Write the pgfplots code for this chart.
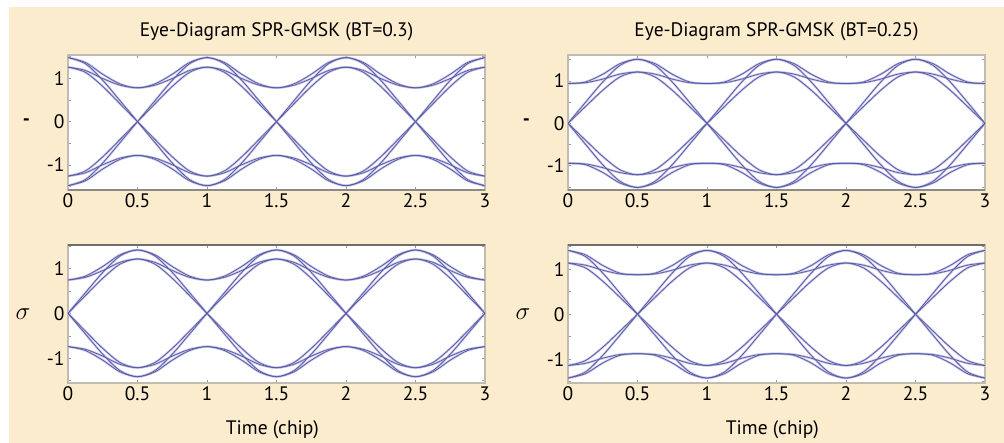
\documentclass[border=0pt]{standalone}
\usepackage{fontspec}
\setmainfont{PT Sans}
\usepackage{pgfplots}
\usepackage{pgfplotstable}
\pgfplotsset{compat=1.18}

\definecolor{bg}{RGB}{252,236,206}
\definecolor{tracecol}{RGB}{90,90,165}
\definecolor{halocol}{RGB}{198,198,233}
\definecolor{framecol}{RGB}{194,188,176}
\definecolor{edgecol}{RGB}{140,138,135}

% eye traces, sampled every 1/8 chip
% columns: upper/lower humps (ha, hb), crossing traces (xa, xb) and their mirrors
\pgfplotstableread{
t ha hb nha nhb xa xb nxa nxb
0 1.48 1.26 -1.48 -1.26 1.48 1.26 -1.48 -1.26
0.125 1.368 1.183 -1.368 -1.183 1.339 1.14 -1.339 -1.14
0.25 1.095 0.996 -1.095 -0.996 0.955 0.813 -0.955 -0.813
0.375 0.871 0.842 -0.871 -0.842 0.481 0.41 -0.481 -0.41
0.5 0.78 0.78 -0.78 -0.78 0 0 0 0
0.625 0.871 0.842 -0.871 -0.842 -0.481 -0.41 0.481 0.41
0.75 1.095 0.996 -1.095 -0.996 -0.955 -0.813 0.955 0.813
0.875 1.368 1.183 -1.368 -1.183 -1.339 -1.14 1.339 1.14
1 1.48 1.26 -1.48 -1.26 -1.48 -1.26 1.48 1.26
1.125 1.368 1.183 -1.368 -1.183 -1.339 -1.14 1.339 1.14
1.25 1.095 0.996 -1.095 -0.996 -0.955 -0.813 0.955 0.813
1.375 0.871 0.842 -0.871 -0.842 -0.481 -0.41 0.481 0.41
1.5 0.78 0.78 -0.78 -0.78 0 0 0 0
1.625 0.871 0.842 -0.871 -0.842 0.481 0.41 -0.481 -0.41
1.75 1.095 0.996 -1.095 -0.996 0.955 0.813 -0.955 -0.813
1.875 1.368 1.183 -1.368 -1.183 1.339 1.14 -1.339 -1.14
2 1.48 1.26 -1.48 -1.26 1.48 1.26 -1.48 -1.26
2.125 1.368 1.183 -1.368 -1.183 1.339 1.14 -1.339 -1.14
2.25 1.095 0.996 -1.095 -0.996 0.955 0.813 -0.955 -0.813
2.375 0.871 0.842 -0.871 -0.842 0.481 0.41 -0.481 -0.41
2.5 0.78 0.78 -0.78 -0.78 0 0 0 0
2.625 0.871 0.842 -0.871 -0.842 -0.481 -0.41 0.481 0.41
2.75 1.095 0.996 -1.095 -0.996 -0.955 -0.813 0.955 0.813
2.875 1.368 1.183 -1.368 -1.183 -1.339 -1.14 1.339 1.14
3 1.48 1.26 -1.48 -1.26 -1.48 -1.26 1.48 1.26
}\tabTL

\pgfplotstableread{
t ha hb nha nhb xa xb nxa nxb
0 0.94 0.94 -0.94 -0.94 0 0 0 0
0.125 0.974 0.956 -0.974 -0.956 0.491 0.393 -0.491 -0.393
0.25 1.157 1.043 -1.157 -1.043 0.974 0.78 -0.974 -0.78
0.375 1.407 1.161 -1.407 -1.161 1.367 1.095 -1.367 -1.095
0.5 1.51 1.21 -1.51 -1.21 1.51 1.21 -1.51 -1.21
0.625 1.407 1.161 -1.407 -1.161 1.367 1.095 -1.367 -1.095
0.75 1.157 1.043 -1.157 -1.043 0.974 0.78 -0.974 -0.78
0.875 0.974 0.956 -0.974 -0.956 0.491 0.393 -0.491 -0.393
1 0.94 0.94 -0.94 -0.94 0 0 0 0
1.125 0.974 0.956 -0.974 -0.956 -0.491 -0.393 0.491 0.393
1.25 1.157 1.043 -1.157 -1.043 -0.974 -0.78 0.974 0.78
1.375 1.407 1.161 -1.407 -1.161 -1.367 -1.095 1.367 1.095
1.5 1.51 1.21 -1.51 -1.21 -1.51 -1.21 1.51 1.21
1.625 1.407 1.161 -1.407 -1.161 -1.367 -1.095 1.367 1.095
1.75 1.157 1.043 -1.157 -1.043 -0.974 -0.78 0.974 0.78
1.875 0.974 0.956 -0.974 -0.956 -0.491 -0.393 0.491 0.393
2 0.94 0.94 -0.94 -0.94 0 0 0 0
2.125 0.974 0.956 -0.974 -0.956 0.491 0.393 -0.491 -0.393
2.25 1.157 1.043 -1.157 -1.043 0.974 0.78 -0.974 -0.78
2.375 1.407 1.161 -1.407 -1.161 1.367 1.095 -1.367 -1.095
2.5 1.51 1.21 -1.51 -1.21 1.51 1.21 -1.51 -1.21
2.625 1.407 1.161 -1.407 -1.161 1.367 1.095 -1.367 -1.095
2.75 1.157 1.043 -1.157 -1.043 0.974 0.78 -0.974 -0.78
2.875 0.974 0.956 -0.974 -0.956 0.491 0.393 -0.491 -0.393
3 0.94 0.94 -0.94 -0.94 0 0 0 0
}\tabTR

\pgfplotstableread{
t ha hb nha nhb xa xb nxa nxb
0 0.74 0.74 -0.74 -0.74 0 0 0 0
0.125 0.827 0.801 -0.827 -0.801 0.458 0.393 -0.458 -0.393
0.25 1.042 0.952 -1.042 -0.952 0.909 0.78 -0.909 -0.78
0.375 1.303 1.135 -1.303 -1.135 1.276 1.095 -1.276 -1.095
0.5 1.41 1.21 -1.41 -1.21 1.41 1.21 -1.41 -1.21
0.625 1.303 1.135 -1.303 -1.135 1.276 1.095 -1.276 -1.095
0.75 1.042 0.952 -1.042 -0.952 0.909 0.78 -0.909 -0.78
0.875 0.827 0.801 -0.827 -0.801 0.458 0.393 -0.458 -0.393
1 0.74 0.74 -0.74 -0.74 0 0 0 0
1.125 0.827 0.801 -0.827 -0.801 -0.458 -0.393 0.458 0.393
1.25 1.042 0.952 -1.042 -0.952 -0.909 -0.78 0.909 0.78
1.375 1.303 1.135 -1.303 -1.135 -1.276 -1.095 1.276 1.095
1.5 1.41 1.21 -1.41 -1.21 -1.41 -1.21 1.41 1.21
1.625 1.303 1.135 -1.303 -1.135 -1.276 -1.095 1.276 1.095
1.75 1.042 0.952 -1.042 -0.952 -0.909 -0.78 0.909 0.78
1.875 0.827 0.801 -0.827 -0.801 -0.458 -0.393 0.458 0.393
2 0.74 0.74 -0.74 -0.74 0 0 0 0
2.125 0.827 0.801 -0.827 -0.801 0.458 0.393 -0.458 -0.393
2.25 1.042 0.952 -1.042 -0.952 0.909 0.78 -0.909 -0.78
2.375 1.303 1.135 -1.303 -1.135 1.276 1.095 -1.276 -1.095
2.5 1.41 1.21 -1.41 -1.21 1.41 1.21 -1.41 -1.21
2.625 1.303 1.135 -1.303 -1.135 1.276 1.095 -1.276 -1.095
2.75 1.042 0.952 -1.042 -0.952 0.909 0.78 -0.909 -0.78
2.875 0.827 0.801 -0.827 -0.801 0.458 0.393 -0.458 -0.393
3 0.74 0.74 -0.74 -0.74 0 0 0 0
}\tabBL

\pgfplotstableread{
t ha hb nha nhb xa xb nxa nxb
0 1.42 1.14 -1.42 -1.14 1.42 1.14 -1.42 -1.14
0.125 1.323 1.093 -1.323 -1.093 1.285 1.032 -1.285 -1.032
0.25 1.085 0.979 -1.085 -0.979 0.916 0.735 -0.916 -0.735
0.375 0.912 0.896 -0.912 -0.896 0.462 0.371 -0.462 -0.371
0.5 0.88 0.88 -0.88 -0.88 0 0 0 0
0.625 0.912 0.896 -0.912 -0.896 -0.462 -0.371 0.462 0.371
0.75 1.085 0.979 -1.085 -0.979 -0.916 -0.735 0.916 0.735
0.875 1.323 1.093 -1.323 -1.093 -1.285 -1.032 1.285 1.032
1 1.42 1.14 -1.42 -1.14 -1.42 -1.14 1.42 1.14
1.125 1.323 1.093 -1.323 -1.093 -1.285 -1.032 1.285 1.032
1.25 1.085 0.979 -1.085 -0.979 -0.916 -0.735 0.916 0.735
1.375 0.912 0.896 -0.912 -0.896 -0.462 -0.371 0.462 0.371
1.5 0.88 0.88 -0.88 -0.88 0 0 0 0
1.625 0.912 0.896 -0.912 -0.896 0.462 0.371 -0.462 -0.371
1.75 1.085 0.979 -1.085 -0.979 0.916 0.735 -0.916 -0.735
1.875 1.323 1.093 -1.323 -1.093 1.285 1.032 -1.285 -1.032
2 1.42 1.14 -1.42 -1.14 1.42 1.14 -1.42 -1.14
2.125 1.323 1.093 -1.323 -1.093 1.285 1.032 -1.285 -1.032
2.25 1.085 0.979 -1.085 -0.979 0.916 0.735 -0.916 -0.735
2.375 0.912 0.896 -0.912 -0.896 0.462 0.371 -0.462 -0.371
2.5 0.88 0.88 -0.88 -0.88 0 0 0 0
2.625 0.912 0.896 -0.912 -0.896 -0.462 -0.371 0.462 0.371
2.75 1.085 0.979 -1.085 -0.979 -0.916 -0.735 0.916 0.735
2.875 1.323 1.093 -1.323 -1.093 -1.285 -1.032 1.285 1.032
3 1.42 1.14 -1.42 -1.14 -1.42 -1.14 1.42 1.14
}\tabBR

\pgfplotsset{
  eye/.style={
    scale only axis,
    width=417pt,
    xmin=0, xmax=3,
    xtick={0,0.5,1,1.5,2,2.5,3},
    xticklabels={0,0.5,1,1.5,2,2.5,3},
    ytick={-1,0,1},
    yticklabels={-1,0,1},
    minor ytick={-1.5,-0.5,0.5,1.5},
    tick align=inside,
    major tick length=3pt,
    minor tick length=3pt,
    tick style={color=black!40, line width=0.6pt},
    axis line style={color=framecol, line width=1.3pt},
    axis background/.style={fill=white},
    tick label style={font=\fontsize{19.5}{22}\selectfont, text=black},
    /pgf/number format/assume math mode=true,
    title style={font=\fontsize{19.5}{22}\selectfont, at={(0.5,1)}, anchor=base, yshift=12pt},
    every axis y label/.style={at={(axis description cs:-0.1,0.5)}, anchor=center,
      font=\fontsize{19.5}{22}\selectfont},
    every axis x label/.style={at={(axis description cs:0.49,0)}, anchor=base,
      yshift=-51pt, font=\fontsize{19.5}{22}\selectfont},
    clip=true,
  },
  haloline/.style={color=halocol, line width=2.2pt, smooth, no markers},
  coreline/.style={color=tracecol, line width=0.75pt, smooth, no markers},
}

\newcommand{\traces}[1]{%
  \pgfplotsinvokeforeach{ha,hb,nha,nhb,xa,xb,nxa,nxb}{\addplot[haloline] table[x=t,y=##1]{#1};}
  \pgfplotsinvokeforeach{ha,hb,nha,nhb,xa,xb,nxa,nxb}{\addplot[coreline] table[x=t,y=##1]{#1};}
}

\begin{document}
\begin{tikzpicture}
\fill[white] (0pt,0pt) rectangle (1004pt,-443pt);
\fill[bg] (9pt,-7pt) rectangle (1004pt,-443pt);

\begin{axis}[eye, name=tl, at={(68pt,-55pt)}, anchor=north west, height=135pt,
  ymin=-1.58, ymax=1.54,
  title={Eye-Diagram SPR-GMSK (BT=0.3)}, ylabel={\textbf{-}}]
\traces{\tabTL}
\end{axis}

\begin{axis}[eye, name=tr, at={(568pt,-55pt)}, anchor=north west, height=135pt,
  ymin=-1.57, ymax=1.61,
  title={Eye-Diagram SPR-GMSK (BT=0.25)}, ylabel={\textbf{-}}]
\traces{\tabTR}
\end{axis}

\begin{axis}[eye, name=bl, at={(68pt,-245pt)}, anchor=north west, height=138pt,
  ymin=-1.55, ymax=1.52,
  ylabel={\fontsize{23}{24}\selectfont$\sigma$}, xlabel={Time (chip)},
  every axis y label/.append style={at={(axis description cs:-0.108,0.5)}}]
\traces{\tabBL}
\end{axis}

\begin{axis}[eye, name=br, at={(568pt,-245pt)}, anchor=north west, height=138pt,
  ymin=-1.53, ymax=1.54,
  ylabel={\fontsize{23}{24}\selectfont$\sigma$}, xlabel={Time (chip)},
  every axis y label/.append style={at={(axis description cs:-0.108,0.5)}}]
\traces{\tabBR}
\end{axis}

% darker frame edges, as in the original
\draw[edgecol, line width=1.6pt] (tl.south west) -- (tl.south east);
\draw[edgecol, line width=1.6pt] (tr.south west) -- (tr.south east);
\draw[edgecol!80!black, line width=2pt] (bl.north west) -- (bl.north east);
\draw[edgecol!80!black, line width=2pt] (br.north west) -- (br.north east);

\pgfresetboundingbox
\useasboundingbox (0pt,0pt) rectangle (1004pt,-443pt);
\end{tikzpicture}
\end{document}
